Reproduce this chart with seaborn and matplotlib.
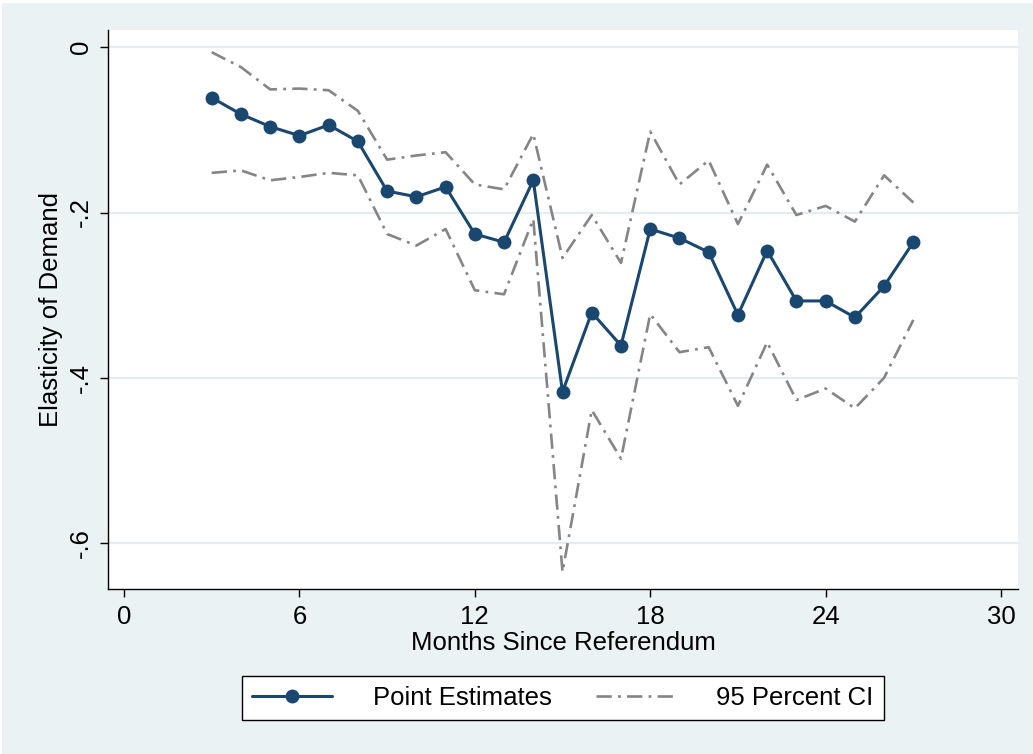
import numpy as np
import pandas as pd
import matplotlib
matplotlib.use("Agg")
import matplotlib.pyplot as plt
from matplotlib.patches import Rectangle
from matplotlib.lines import Line2D
import seaborn as sns

# Monthly elasticity estimates with 95% confidence bounds
months = list(range(3, 28))
point_est = [-0.061, -0.081, -0.096, -0.107, -0.094, -0.114, -0.174, -0.181, -0.169,
             -0.226, -0.236, -0.161, -0.417, -0.321, -0.361, -0.220, -0.231, -0.248,
             -0.324, -0.246, -0.307, -0.307, -0.327, -0.289, -0.236]
ci_upper = [-0.006, -0.024, -0.051, -0.050, -0.052, -0.077, -0.136, -0.131, -0.127,
            -0.166, -0.172, -0.105, -0.255, -0.203, -0.261, -0.102, -0.166, -0.137,
            -0.214, -0.142, -0.203, -0.192, -0.211, -0.155, -0.188]
ci_lower = [-0.152, -0.149, -0.161, -0.157, -0.152, -0.155, -0.226, -0.240, -0.220,
            -0.294, -0.299, -0.208, -0.635, -0.439, -0.498, -0.323, -0.369, -0.363,
            -0.434, -0.357, -0.427, -0.413, -0.437, -0.400, -0.330]

x_ticks = [0, 6, 12, 18, 24, 30]
y_ticks = [0, -0.2, -0.4, -0.6]
y_tick_labels = ["0", "-.2", "-.4", "-.6"]

df = pd.DataFrame({"month": months, "est": point_est, "hi": ci_upper, "lo": ci_lower})

sns.set_theme(style="white")
plt.rcParams["font.family"] = ["Liberation Sans", "DejaVu Sans"]
plt.rcParams["lines.scale_dashes"] = False
plt.rcParams["text.color"] = "black"
plt.rcParams["axes.labelcolor"] = "black"

BG = "#eaf2f3"
NAVY = "#1a476f"
GREY = "#858585"
FS = 18.5

fig = plt.figure(figsize=(10.33, 7.54), dpi=100, facecolor="white")
fig.patches.append(Rectangle((2 / 1033, 0), 1, 1 - 3 / 754, transform=fig.transFigure,
                             facecolor=BG, edgecolor="none", zorder=-10))

ax = fig.add_axes([108 / 1033, 1 - 589.3 / 754, 910 / 1033, (589.3 - 30) / 754])
ax.set_facecolor("white")

dash_dot = (0, (11, 4.5, 2, 4.5))
for col in ["hi", "lo"]:
    sns.lineplot(data=df, x="month", y=col, ax=ax, color=GREY, linewidth=1.9,
                 linestyle=dash_dot, zorder=2)
sns.lineplot(data=df, x="month", y="est", ax=ax, color=NAVY, linewidth=2.2,
             marker="o", markersize=10, markeredgewidth=0, zorder=3)

ax.set_xlim(-0.547, 30.58)
ax.set_ylim(-0.656, 0.0209)

for yv in y_ticks:
    ax.axhline(yv, color="#e3ecef", linewidth=1.6, zorder=1)

ax.set_xticks(x_ticks)
ax.set_xticklabels([str(v) for v in x_ticks])
ax.set_yticks(y_ticks)
ax.set_yticklabels(y_tick_labels, rotation=90, va="center")

for s in ["top", "right"]:
    ax.spines[s].set_visible(False)
for s in ["left", "bottom"]:
    ax.spines[s].set_color("black")
    ax.spines[s].set_linewidth(1.0)

ax.tick_params(axis="both", direction="out", length=6, width=1.0, color="black",
               labelsize=FS, labelcolor="black", pad=5)
ax.tick_params(axis="x", bottom=True)
ax.tick_params(axis="y", left=True)

ax.set_xlabel("Months Since Referendum", fontsize=FS, color="black", labelpad=2)
ax.set_ylabel("Elasticity of Demand", fontsize=FS, color="black", labelpad=4)

handles = [
    Line2D([], [], color=NAVY, linewidth=2.2, marker="o", markersize=10, markeredgewidth=0),
    Line2D([], [], color=GREY, linewidth=1.9, linestyle=dash_dot),
]
leg = fig.legend(handles, ["Point Estimates", "95 Percent CI"], loc="center",
                 bbox_to_anchor=(563 / 1033, 1 - 698 / 754), ncol=2, fontsize=FS,
                 frameon=True, fancybox=False, edgecolor="black", facecolor="white",
                 framealpha=1, handlelength=3.1, handletextpad=1.6, columnspacing=1.7,
                 borderpad=0.4, borderaxespad=0)
leg.get_frame().set_linewidth(1.0)
for t in leg.get_texts():
    t.set_color("black")

fig.savefig("out.png", dpi=100, facecolor=fig.get_facecolor())
